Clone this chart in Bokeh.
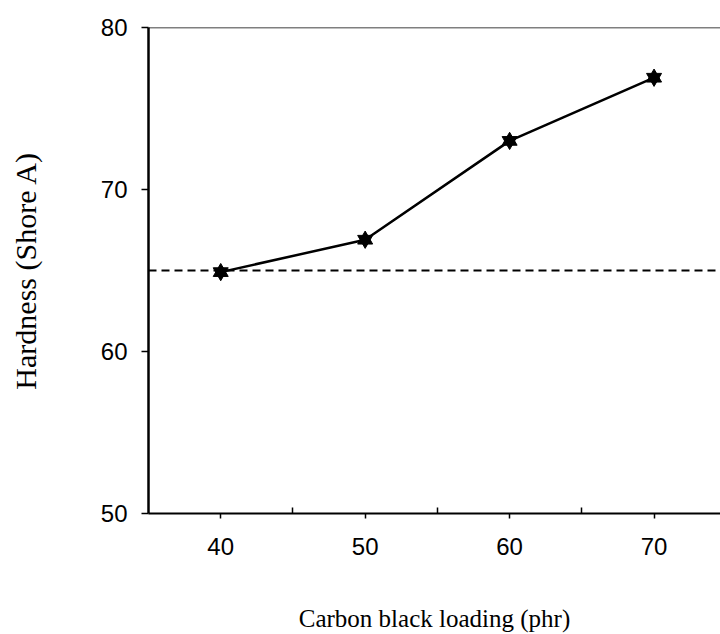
from bokeh.plotting import figure
from bokeh.models import FixedTicker, Span, Range1d
from bokeh.embed import file_html
from bokeh.resources import INLINE

# Hardness versus carbon black loading
loading = [40, 50, 60, 70]          # phr
hardness = [64.9, 66.9, 73.0, 76.9]  # Shore A
reference_hardness = 65.0           # dashed reference level

x_ticks = [40, 50, 60, 70]
x_minor = [45, 55, 65, 75]
y_ticks = [50, 60, 70, 80]

p = figure(
    width=720, height=634,
    x_range=Range1d(35, 74.6), y_range=Range1d(50, 80),
    output_backend="svg", toolbar_location=None,
    min_border_left=148, min_border_right=0,
    min_border_top=27, min_border_bottom=121,
    x_axis_label="Carbon black loading (phr)",
    y_axis_label="Hardness (Shore A)",
)
p.grid.visible = False
p.outline_line_color = None
p.background_fill_color = "white"
p.border_fill_color = "white"

# x axis: labelled ticks point down, in-between ticks point up
xa = p.xaxis[0]
xa.ticker = FixedTicker(ticks=x_ticks, minor_ticks=x_minor)
xa.major_tick_in = 0
xa.major_tick_out = 5
xa.minor_tick_in = 6
xa.minor_tick_out = 0
xa.axis_line_width = 2
xa.major_tick_line_width = 1.5
xa.minor_tick_line_width = 1.5
xa.major_label_standoff = 19
xa.major_label_text_font = "Liberation Sans"
xa.major_label_text_font_size = "24px"
xa.axis_label_text_font = "Liberation Serif"
xa.axis_label_text_font_size = "25px"
xa.axis_label_text_font_style = "normal"
xa.axis_label_standoff = 47

ya = p.yaxis[0]
ya.ticker = FixedTicker(ticks=y_ticks, minor_ticks=[])
ya.major_tick_in = 0
ya.major_tick_out = 7
ya.axis_line_width = 2.5
ya.major_tick_line_width = 1.5
ya.major_label_standoff = 14
ya.major_label_text_font = "Liberation Sans"
ya.major_label_text_font_size = "24px"
ya.axis_label_text_font = "Liberation Serif"
ya.axis_label_text_font_size = "30px"
ya.axis_label_text_font_style = "normal"
ya.axis_label_standoff = 56

for ax in (xa, ya):
    ax.axis_line_color = "black"
    ax.major_tick_line_color = "black"
    ax.minor_tick_line_color = "black"
    ax.major_label_text_color = "black"
    ax.axis_label_text_color = "black"

# top frame edge
p.add_layout(Span(location=80, dimension="width", line_color="black", line_width=1.5))

# dashed reference level
p.add_layout(Span(location=reference_hardness, dimension="width",
                  line_color="black", line_width=2, line_dash="8 5"))

# data line with six-pointed star markers
p.line(loading, hardness, line_color="black", line_width=2.5)
p.scatter(loading, hardness, marker="triangle", size=15, color="black")
p.scatter(loading, hardness, marker="inverted_triangle", size=15, color="black")

open("out.html", "w").write(file_html(p, INLINE))
